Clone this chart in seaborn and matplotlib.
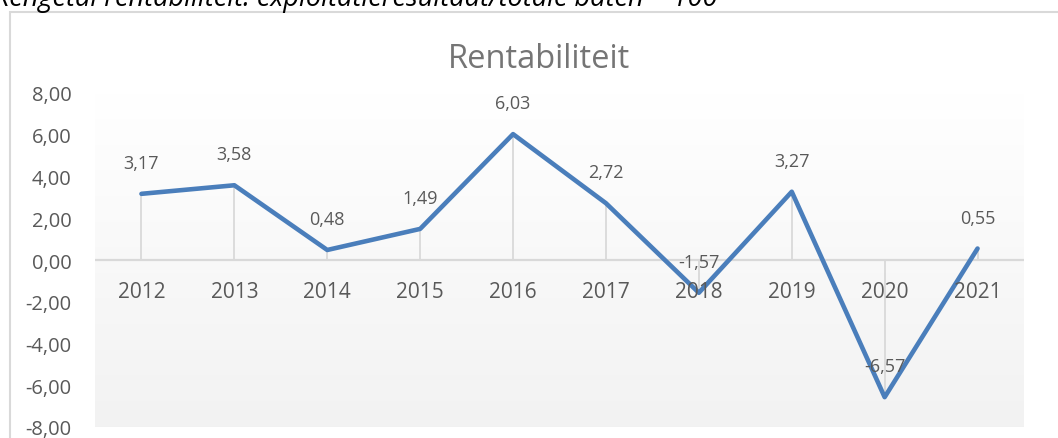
import matplotlib
matplotlib.use("Agg")
import matplotlib.pyplot as plt
import seaborn as sns
import numpy as np
import pandas as pd
from matplotlib.patches import Rectangle

years = ["2012", "2013", "2014", "2015", "2016", "2017", "2018", "2019", "2020", "2021"]
values = [3.17, 3.58, 0.48, 1.49, 6.03, 2.72, -1.57, 3.27, -6.57, 0.55]
yticks = [-8, -6, -4, -2, 0, 2, 4, 6, 8]
title = "Rentabiliteit"
caption = "Kengetal rentabiliteit: exploitatieresultaat/totale baten * 100"

sns.set_theme(style="white")
plt.rcParams['font.family'] = ['Open Sans', 'DejaVu Sans']

W, H = 1058, 439
fig = plt.figure(figsize=(W / 100, H / 100), dpi=100)
fig.patch.set_facecolor("white")

# chart frame
fig.patches.append(Rectangle((10 / W, -0.05), 1.1, (H - 13) / H + 0.05,
                             transform=fig.transFigure, fill=False,
                             edgecolor="#d9d9d9", lw=1.5, zorder=0))

fig.text(-0.006, 1 - 6 / H, caption, fontsize=19.5, style="italic",
         color="black", ha="left", va="baseline")

ax = fig.add_axes([95 / W, (H - 428) / H, (1024 - 95) / W, (428 - 94) / H])
ax.set_facecolor("none")

grad = np.linspace(1.0, 0.949, 256).reshape(-1, 1)
ax.imshow(np.dstack([grad, grad, grad]), extent=[-0.5, 9.5, -8, 8],
          aspect="auto", zorder=0, origin="upper")

df = pd.DataFrame({"year": years, "value": values})
x = np.arange(len(years))
ax.vlines(x, 0, values, color="#d9d9d9", lw=1.3, zorder=1)
ax.axhline(0, color="#d9d9d9", lw=1.6, zorder=1)
sns.lineplot(data=df, x="year", y="value", ax=ax, color="#4a7ebb",
             lw=3.3, zorder=3, sort=False)

ax.set_xlim(-0.5, 9.5)
ax.set_ylim(-8, 8)
ax.set_yticks(yticks)
ax.set_yticklabels([f"{v:.2f}".replace(".", ",") for v in yticks],
                   fontsize=14.5, color="#595959")
ax.tick_params(axis="y", length=0, pad=17)
ax.set_xticks([])
ax.set_xlabel("")
ax.set_ylabel("")
for s in ax.spines.values():
    s.set_visible(False)

for i, (yr, v) in enumerate(zip(years, values)):
    ax.annotate(yr, (i, 0), xytext=(0, -32), textcoords="offset pixels",
                ha="center", va="center", fontsize=15, color="#595959", zorder=4)
    ax.annotate(f"{v:.2f}".replace(".", ","), (i, v), xytext=(0, 31),
                textcoords="offset pixels", ha="center", va="center",
                fontsize=13, color="#595959", zorder=4)

fig.text(539 / W, 1 - 59 / H, title, fontsize=23.5, color="#757575",
         ha="center", va="center")

fig.savefig("out.png", dpi=100)
